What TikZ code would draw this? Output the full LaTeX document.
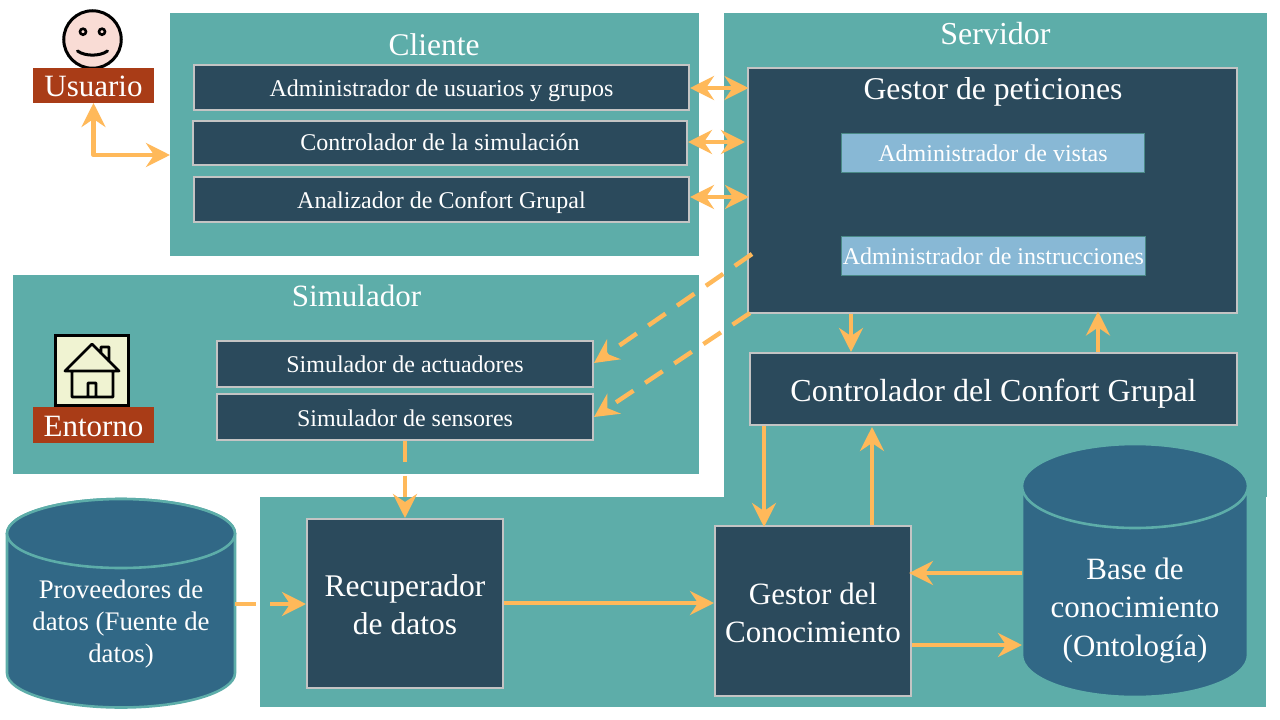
\documentclass[tikz,border=0pt]{standalone}
\usepackage{fontspec}
\setmainfont{Liberation Serif}
\usetikzlibrary{arrows.meta,calc}
\definecolor{tealbg}{HTML}{5DADA9}
\definecolor{darkbox}{HTML}{2B4A5C}
\definecolor{cylblue}{HTML}{316886}
\definecolor{edgegrey}{HTML}{C4C4C4}
\definecolor{lightblue}{HTML}{88B8D5}
\definecolor{flowor}{HTML}{FFB95A}
\definecolor{rust}{HTML}{A93C17}
\definecolor{skin}{HTML}{F9DCD5}
\definecolor{cream}{HTML}{F0F3D2}
\newcommand{\fs}[1]{\fontsize{#1}{#1}\selectfont}
% baseline #1 pt below the node centre (single line)
\newcommand{\bl}[1]{\rule[-7pt]{0pt}{\dimexpr14pt+#1pt*2\relax}}
\newcommand{\blt}[1]{\rule[-6pt]{0pt}{\dimexpr12pt+#1pt*2\relax}}
\newcommand{\topr}[1]{\rule{0pt}{#1pt}}
\newcommand{\botr}{\rule[-10pt]{0pt}{10pt}}
% style, name, x1, y1, x2, y2, text
\newcommand{\boxat}[7]{%
  \pgfmathsetmacro{\bw}{#5-#3}\pgfmathsetmacro{\bh}{#6-#4}%
  \pgfmathsetmacro{\bx}{(#3+#5)/2}\pgfmathsetmacro{\by}{(#4+#6)/2}%
  \node[#1,minimum width=\bw pt,minimum height=\bh pt] (#2) at (\bx,\by) {#7};}
\newcommand{\cylat}[6]{%
  \pgfmathsetmacro{\crx}{(#3-#2)/2}\pgfmathsetmacro{\ccx}{(#2+#3)/2}%
  \path[draw=tealbg,line width=2.6pt,fill=cylblue] (#2,#4) -- (#2,#5)
     arc[start angle=180,end angle=360,x radius=\crx pt,y radius=#6pt] -- (#3,#4)
     arc[start angle=0,end angle=180,x radius=\crx pt,y radius=#6pt] -- cycle;
  \path[draw=tealbg,line width=2.6pt,fill=cylblue] (\ccx,#4) ellipse[x radius=\crx pt,y radius=#6pt];}
\tikzset{
  panel/.style={fill=tealbg,inner sep=0pt,outer sep=0pt},
  darkb/.style={fill=darkbox,draw=edgegrey,line width=1.6pt,text=white,inner sep=0pt,outer sep=.8pt,align=center},
  lightb/.style={fill=lightblue,draw=tealbg!80!black,line width=0.9pt,text=white,inner sep=0pt,outer sep=0pt},
  tagb/.style={fill=rust,text=white,inner sep=0pt,outer sep=0pt},
  ghost/.style={text=white,inner sep=0pt,outer sep=0pt,align=center},
  title/.style={text=white,inner sep=0pt,anchor=base},
  small/.style={font=\fs{24}},
  big/.style={font=\fontsize{31.5}{38.5}\selectfont},
  flow/.style={draw=flowor,line width=4.4pt},
  onetip/.style={flow,-{Stealth[length=24pt,width=24pt,inset=8pt]}},
  twotip/.style={flow,{Stealth[length=24pt,width=24pt,inset=8pt]}-{Stealth[length=24pt,width=24pt,inset=8pt]}},
  dashtip/.style={onetip,dash pattern=on 21pt off 14pt},
}
\begin{document}
\begin{tikzpicture}[x=1pt,y=-1pt]
\useasboundingbox (0,0) rectangle (1280,720);
\fill[white] (0,0) rectangle (1280,720);
% panels
\boxat{panel}{cliente}{170}{13}{699}{256}{}
\boxat{panel}{servidor}{724}{13}{1267}{497}{}
\boxat{panel}{servlow}{260}{497}{1266}{707}{}
\boxat{panel}{simulador}{13}{275}{699}{474}{}
% panel titles
\node[title,font=\fs{31.5}] (tcliente) at (434,55) {Cliente};
\node[title,font=\fs{32}] (tservidor) at (995.5,44) {Servidor};
\node[title,font=\fs{31}] (tsim) at (356.5,306) {Simulador};
% client boxes
\boxat{darkb,small}{admin}{193.8}{64.8}{689.2}{109.8}{\bl{9}Administrador de usuarios y grupos}
\boxat{darkb,small}{ctrl}{192.8}{120.8}{687.2}{164.8}{\bl{7.5}Controlador de la simulación}
\boxat{darkb,small}{anal}{193.8}{176.8}{689.2}{221.8}{\bl{9}Analizador de Confort Grupal}
% gestor de peticiones
\boxat{darkb}{gestor}{747.8}{67.8}{1237.2}{312.8}{}
\node[title,font=\fs{31.7}] (tgestor) at (993,99) {Gestor de peticiones};
\boxat{lightb,small}{vistas}{841.4}{133.4}{1144.6}{172.6}{\bl{8}Administrador de vistas}
\boxat{lightb,small}{instr}{841.4}{236.4}{1145.4}{275.6}{\bl{8}Administrador de instrucciones}
\boxat{darkb,font=\fs{32}}{confort}{749.8}{352.8}{1237.2}{424.8}{\bl{12.5}Controlador del Confort Grupal}
% simulator
\boxat{darkb,small}{actu}{216.8}{340.8}{593.2}{386.8}{\bl{8.5}Simulador de actuadores}
\boxat{darkb,small}{sens}{216.8}{393.8}{593.2}{439.8}{\bl{9.5}Simulador de sensores}
\boxat{darkb,big}{recup}{306.8}{518.8}{503.2}{688.2}{\topr{33.5}Recuperador\\de datos\botr}
\boxat{darkb,big,font=\fontsize{31}{38.5}\selectfont}{conoc}{714.8}{525.8}{911.2}{696.2}{\topr{34.5}Gestor del\\Conocimiento\botr}
% usuario
\node[circle,draw=black,fill=skin,line width=3pt,minimum size=57.5pt,inner sep=0pt] (face) at (92.5,39.5) {};
\draw[black,line width=2.6pt] (83,31.7) circle[radius=3pt] (102,31.7) circle[radius=3pt];
\draw[black,line width=3pt,line cap=round] (77.5,51) .. controls (85,56.5) and (100,56.5) .. (107.5,51);
\boxat{tagb,font=\fs{31}}{usuario}{33}{68}{154}{103}{\blt{11.2}Usuario}
% entorno
\boxat{fill=cream,draw=black,line width=3pt,inner sep=0pt,outer sep=0pt}{casa}{55.5}{335.5}{128.5}{405.5}{}
\draw[black,line width=2.8pt,line join=round] (65,371) -- (92,344) -- (119,371) -- cycle
  (72,371) -- (72,397) -- (113,397) -- (113,371)
  (88,397) -- (88,383) -- (96,383) -- (96,397)
  (101,354) -- (101,347) -- (109,347) -- (109,362);
\boxat{tagb,font=\fs{31}}{entorno}{33}{407}{154}{443}{\blt{11.7}Entorno}
% cylinders
\cylat{prov}{7}{235}{533.5}{673}{34.5}
\boxat{ghost,font=\fontsize{26.8}{32}\selectfont}{prov}{7}{572}{235}{672}{\topr{27}Proveedores de\\datos (Fuente de\\datos)\botr}
\cylat{base}{1022}{1248}{486}{655}{42}
\boxat{ghost,font=\fontsize{31}{38.5}\selectfont}{base}{1022}{548}{1248}{668}{\topr{29}Base de\\conocimiento\\(Ontología)\botr}
% connectors
\coordinate (clientein) at (170,155);
\draw[twotip,line join=round] (usuario.south) |- (clientein);
\draw[twotip] (admin.east |- 0,88) -- (748.5,88);
\draw[twotip] (ctrl.east |- 0,142) -- (745,142);
\draw[twotip] (anal.east |- 0,197) -- (749,197);
\coordinate (gsa) at (752,254);
\coordinate (gsb) at (750,313);
\draw[dashtip] (gsa) -- (actu.east |- 0,363);
\draw[dashtip] (gsb) -- (sens.east |- 0,417);
\draw[onetip] (851,0 |- gestor.south) -- (851,0 |- confort.north);
\draw[onetip] (1098,0 |- confort.north) -- (1098,311.5);
\draw[onetip] (764,0 |- confort.south) -- (764,527);
\draw[onetip] (872,0 |- conoc.north) -- (872,427);
\draw[dashtip] (405,0 |- sens.south) -- (405,0 |- recup.north);
\draw[dashtip] (prov.east |- 0,604) -- (recup.west |- 0,604);
\draw[onetip] (recup.east |- 0,603) -- (conoc.west |- 0,603);
\draw[onetip] (base.west |- 0,573) -- (909,573);
\draw[onetip] (conoc.east |- 0,645) -- (base.west |- 0,645);
\end{tikzpicture}
\end{document}
